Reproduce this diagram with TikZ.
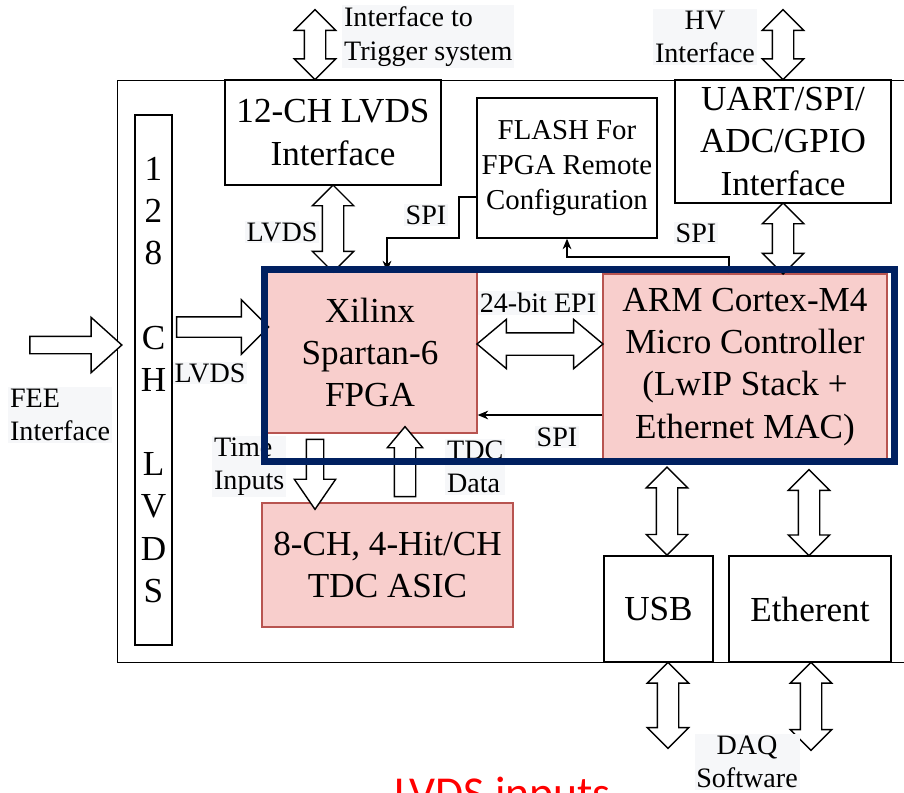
\documentclass[tikz,border=0pt]{standalone}
\usepackage{fontspec}
\setmainfont{Liberation Serif}
\newfontfamily\notefont{Carlito}
\usepackage{xcolor}
\usetikzlibrary{positioning,arrows.meta,calc,shapes.arrows}

\definecolor{pinkfill}{HTML}{F8CECC}
\definecolor{pinkline}{HTML}{B85450}
\definecolor{navy}{HTML}{002060}
\definecolor{lblbg}{HTML}{F6F7F9}

\begin{document}
\begin{tikzpicture}[
    box/.style={draw, thick, font=\fontsize{20}{24}\selectfont, align=center, inner sep=2pt},
    chip/.style={box, draw=pinkline, fill=pinkfill},
    lbl/.style={font=\fontsize{16}{19}\selectfont, fill=lblbg, inner sep=1pt, align=center},
    spi/.style={-{Stealth[length=6pt,width=5pt]}, semithick},
    dbl/.style={double arrow, draw, fill=white, thick, inner xsep=0pt, inner ysep=0.2cm,
        minimum width=0.8cm, double arrow head extend=0.2cm, double arrow tip angle=90},
    sgl/.style={single arrow, draw, fill=white, thick, inner xsep=0pt},
]
\useasboundingbox (0,0) rectangle (18.08,-15.84);
\clip (0,0) rectangle (18.08,-15.84);

% board and blocks
\node[draw, thick, minimum width=16cm, minimum height=11.64cm, anchor=north west] (board) at (2.34,-1.6) {};
\node[box, minimum width=0.74cm, minimum height=10.6cm] (strip) at (3.07,-7.6)
    {1\\2\\8\\[24pt]C\\H\\[24pt]L\\V\\D\\S};
\node[box, minimum width=4.32cm, minimum height=2.1cm] (lvds) at (6.66,-2.65) {12-CH LVDS\\Interface};
\node[box, font=\fontsize{16.4}{20}\selectfont, minimum width=3.6cm, minimum height=2.8cm] (flash) at (11.34,-3.36)
    {FLASH For\\FPGA Remote\\Configuration};
\node[box, minimum width=4.32cm, minimum height=2.46cm] (uart) at (15.66,-2.83) {UART/SPI/\\ADC/GPIO\\Interface};
\node[chip, minimum width=4.28cm, minimum height=3.22cm] (fpga) at (7.4,-7.05) {Xilinx\\Spartan-6\\FPGA};
\node[chip, minimum width=5.68cm, minimum height=3.72cm] (arm) at (14.9,-7.34)
    {ARM Cortex-M4\\Micro Controller\\(LwIP Stack +\\Ethernet MAC)};
\node[chip, minimum width=5.02cm, minimum height=2.48cm] (tdc) at (7.75,-11.3) {8-CH, 4-Hit/CH\\TDC ASIC};
\node[box, minimum width=2.18cm, minimum height=2.12cm] (usb) at (13.17,-12.18) {USB};
\node[box, minimum width=3.24cm, minimum height=2.12cm] (eth) at (16.2,-12.18) {Etherent};

% free ends
\coordinate (trigtop) at (6.3,-0.2);
\coordinate (hvtop) at (15.66,-0.2);
\coordinate (feetail) at (0.5,-6.9);
\coordinate (lvin) at (0,-6.54);
\coordinate (epi) at (0,-6.88);
\coordinate (tin) at (6.3,0);
\coordinate (tout) at (8.1,0);
\coordinate (usbtop) at (13.34,-9.34);
\coordinate (ethtop) at (16.18,-9.4);
\coordinate (usbbot) at (13.36,-14.96);
\coordinate (ethbot) at (16.22,-15.0);

% block arrows
\node[dbl, rotate=90, minimum height=1.4cm] (trigarr) at ($(trigtop)!0.5!(trigtop |- lvds.north)$) {};
\node[dbl, rotate=90, minimum height=1.4cm] (hvarr) at ($(hvtop)!0.5!(hvtop |- uart.north)$) {};
\node[dbl, rotate=90, minimum height=1.74cm] (lvdsarr) at ($(lvds.south)!0.5!(lvds.south |- fpga.north)$) {};
\node[dbl, rotate=90, minimum height=1.42cm] (uartarr) at ($(uart.south)!0.5!(uart.south |- arm.north)$) {};
\node[dbl, minimum height=2.52cm, inner ysep=0.21cm, minimum width=0.96cm, double arrow head extend=0.27cm,
    double arrow tip angle=80] (epiarr) at ($(fpga.east |- epi)!0.5!(arm.west |- epi)$) {};
\node[sgl, minimum height=1.84cm, inner ysep=0.16cm, minimum width=1.08cm, single arrow head extend=0.38cm,
    single arrow tip angle=84] (feearr) at ($(feetail)!0.5!(feetail -| board.west)$) {};
\node[sgl, minimum height=1.84cm, inner ysep=0.19cm, minimum width=1.06cm, single arrow head extend=0.34cm,
    single arrow tip angle=90] (lvinarr) at ($(strip.east |- lvin)!0.5!(fpga.west |- lvin)$) {};
\node[sgl, rotate=-90, minimum height=1.4cm, inner ysep=0.16cm, minimum width=0.8cm, single arrow head extend=0.24cm,
    single arrow tip angle=69] (tinarr) at ($(fpga.south -| tin)!0.5!(tdc.north -| tin)$) {};
\node[sgl, rotate=90, minimum height=1.4cm, inner ysep=0.2cm, minimum width=0.68cm, single arrow head extend=0.14cm,
    single arrow tip angle=80] (toutarr) at ($(fpga.south -| tout)!0.5!(tdc.north -| tout)$) {};
\node[dbl, rotate=90, minimum height=1.76cm] (usbarr) at ($(usbtop)!0.5!(usbtop |- usb.north)$) {};
\node[dbl, rotate=90, minimum height=1.72cm] (etharr) at ($(ethtop)!0.5!(ethtop |- eth.north)$) {};
\node[dbl, rotate=90, minimum height=1.72cm] (usbout) at ($(usbbot)!0.5!(usbbot |- usb.south)$) {};
\node[dbl, rotate=90, minimum height=1.76cm] (ethout) at ($(ethbot)!0.5!(ethbot |- eth.south)$) {};

% SPI lines
\coordinate (spiA) at (9.18,-4.76);
\coordinate (spiB) at (7.74,-4.76);
\coordinate (spiC) at (14.58,-5.14);
\coordinate (spiD) at (0,-8.3);
\draw[spi] ([yshift=-0.58cm]flash.west) -| (spiA) -- (spiB) -- (spiB |- fpga.north);
\draw[spi] (spiC |- arm.north) -- (spiC) -| (flash.south);
\draw[spi] (arm.west |- spiD) -- (fpga.east |- spiD);

% labels
\node[lbl, anchor=west, align=left] (lbltrig) at (6.84,-0.73) {Interface to\\Trigger system};
\node[lbl] (lblhv) at (14.1,-0.74) {HV\\Interface};
\node[lbl] (lbllvds) at (5.64,-4.64) {LVDS};
\node[lbl] (lblspia) at (8.52,-4.3) {SPI};
\node[lbl] (lblspib) at (13.92,-4.66) {SPI};
\node[lbl] (lblepi) at (10.76,-6.06) {24-bit EPI};
\node[lbl] (lblspic) at (11.14,-8.74) {SPI};
\node[lbl] (lbllvin) at (4.2,-7.46) {LVDS};
\node[lbl, anchor=west, align=left] (lblfee) at (0.16,-8.3) {FEE\\Interface};
\node[lbl, anchor=west, align=left] (lbltin) at (4.24,-9.33) {Time\\Inputs};
\node[lbl, anchor=west, align=left] (lbltout) at (8.9,-9.34) {TDC\\Data};
\node[lbl] (lbldaq) at (14.94,-15.24) {DAQ\\Software};
\node[font=\notefont\fontsize{26}{30}\selectfont, text=red, anchor=base] (note) at (10.05,-16.16) {LVDS inputs};

% core frame
\node[draw=navy, line width=0.14cm, minimum width=12.6cm, minimum height=3.85cm, anchor=north west] (core) at (5.21,-5.31) {};
\end{tikzpicture}
\end{document}
